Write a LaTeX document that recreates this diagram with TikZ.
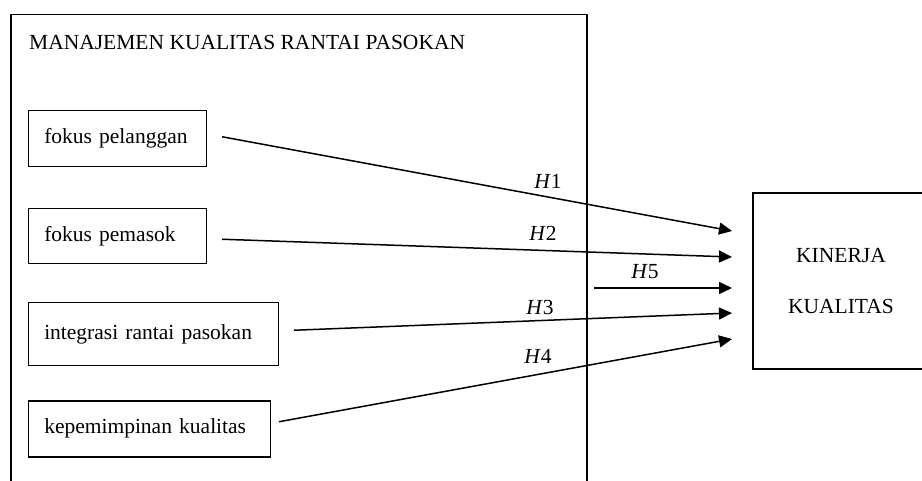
\documentclass[tikz,border=0pt]{standalone}
\usepackage{fontspec}
\setmainfont{Liberation Serif}
\usetikzlibrary{arrows.meta}

\begin{document}
\begin{tikzpicture}[x=1pt,y=-1pt,
  txt/.style={font=\fontsize{21.5}{25}\selectfont},
  varbox/.style={draw, line width=1.5pt, anchor=north west, inner xsep=16pt,
    inner ysep=0pt, align=left, txt},
  link/.style={line width=1.5pt, -{Triangle[length=13pt,width=12pt]}},
  hyp/.style={txt}
]
\useasboundingbox (0,0) rectangle (922,481);
\clip (0,0) rectangle (922,481);

% outer frame: supply chain quality management
\node[draw, line width=1.5pt, anchor=north west, minimum width=576pt,
  minimum height=520pt, inner sep=0pt] (sqm) at (10,14) {};
\node[txt, anchor=west, inner sep=0pt] (title) at (29,42)
  {MANAJEMEN KUALITAS RANTAI PASOKAN};

% dimensions
\node[varbox, text width=146pt, minimum height=56pt] (fp) at (27.5,110) {fokus pelanggan};
\node[varbox, text width=146pt, minimum height=55pt] (fs) at (27.5,208) {fokus pemasok};
\node[varbox, text width=218pt, minimum height=63pt] (ir) at (27.5,302) {integrasi rantai pasokan};
\node[varbox, text width=210pt, minimum height=56pt] (kk) at (27.5,400) {kepemimpinan kualitas};

% outcome
\node[draw, line width=1.5pt, minimum width=176pt, minimum height=176pt,
  align=center, font=\fontsize{21.5}{51}\selectfont] (kq) at (841,281)
  {KINERJA\\KUALITAS};

% arrow targets
\coordinate (t1) at (732,231);
\coordinate (t2) at (732,257);
\coordinate (t5) at (732,288);
\coordinate (t3) at (732,313);
\coordinate (t4) at (732,339);
\coordinate (s5) at (594,288);

% hypotheses
\draw[link] ([xshift=15pt,yshift=2pt]fp.east) -- (t1);
\draw[link] ([xshift=15pt,yshift=-3pt]fs.east) -- (t2);
\draw[link] ([xshift=15pt,yshift=4pt]ir.east) -- (t3);
\draw[link] ([xshift=8pt,yshift=7pt]kk.east) -- (t4);
\draw[link] (s5) -- (t5);

\node[hyp] (h1) at (548,181) {\textit{H}1};
\node[hyp] (h2) at (543,233) {\textit{H}2};
\node[hyp] (h5) at (645,272) {\textit{H}5};
\node[hyp] (h3) at (540,307) {\textit{H}3};
\node[hyp] (h4) at (538,356) {\textit{H}4};
\end{tikzpicture}
\end{document}
